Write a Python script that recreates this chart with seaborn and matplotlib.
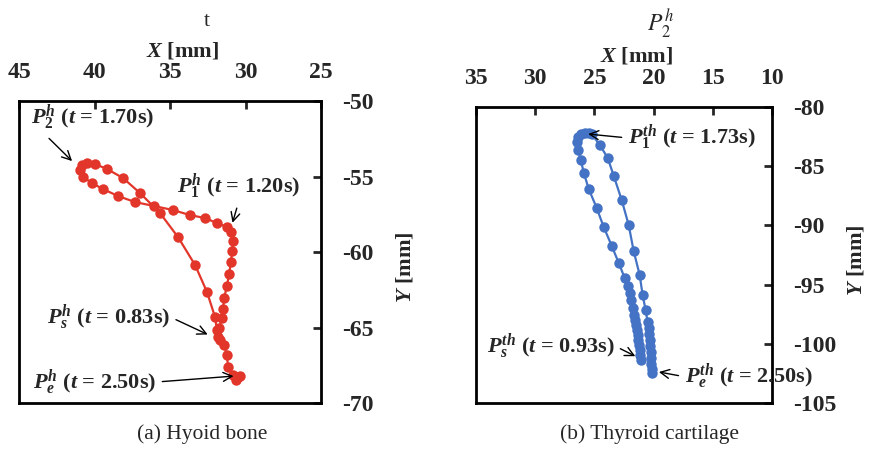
import numpy as np
import pandas as pd
import matplotlib
matplotlib.use("Agg")
import matplotlib.pyplot as plt
import seaborn as sns

# ==========================
# Data (mm)
# ==========================
# (a) hyoid bone trajectory, t = 0.83s -> 2.50s
hyoid_x = [31.82, 31.75, 31.56, 31.49, 31.42, 31.23, 31.09, 30.96, 30.89, 30.83,
           30.96, 31.23, 31.89, 32.68, 33.68, 34.80, 36.06, 37.32, 38.44, 39.44,
           40.17, 40.76, 40.96, 40.83, 40.50, 39.97, 39.17, 38.11, 36.99, 35.66,
           34.47, 33.34, 32.55, 32.02, 31.89, 31.69, 31.42, 31.23, 31.16, 30.83,
           30.50, 30.36, 30.63]
hyoid_y = [-65.63, -65.03, -64.37, -63.77, -63.05, -62.25, -61.46, -60.66, -59.93, -59.27,
           -58.68, -58.34, -58.08, -57.75, -57.55, -57.22, -56.95, -56.69, -56.29, -55.83,
           -55.43, -55.03, -54.57, -54.24, -54.11, -54.17, -54.50, -55.10, -56.09, -57.42,
           -59.01, -60.86, -62.65, -64.30, -65.17, -65.83, -66.16, -66.82, -67.62, -68.15,
           -68.28, -68.21, -68.48]

# (b) thyroid cartilage trajectory, t = 0.93s -> 2.50s
thyroid_x = [21.10, 21.18, 21.18, 21.27, 21.35, 21.35, 21.44, 21.52, 21.60, 21.69,
             21.77, 21.94, 22.03, 22.19, 22.45, 22.95, 23.54, 24.22, 24.81, 25.48,
             25.90, 26.15, 26.41, 26.49, 26.41, 26.15, 25.82, 25.48,
             25.23, 24.55, 23.88, 23.37, 22.70, 22.11, 21.69, 21.18, 20.93, 20.68,
             20.51, 20.42, 20.42, 20.34, 20.34, 20.26, 20.26, 20.26, 20.17, 20.17]
thyroid_y = [-101.35, -100.93, -100.51, -100.08, -99.66, -99.24, -98.82, -98.40, -97.98, -97.55,
             -96.96, -96.29, -95.70, -95.11, -94.43, -93.17, -91.73, -90.13, -88.53, -86.93,
             -85.57, -84.47, -83.63, -82.95, -82.53, -82.28, -82.19, -82.19,
             -82.28, -83.21, -84.30, -85.82, -87.85, -89.96, -92.15, -94.18, -95.87, -97.13,
             -98.14, -98.65, -99.16, -99.66, -100.17, -100.68, -101.18, -101.69, -102.11, -102.45]

hyoid_xticks = [45, 40, 35, 30, 25]
hyoid_yticks = [-50, -55, -60, -65, -70]
thyroid_xticks = [35, 30, 25, 20, 15, 10]
thyroid_yticks = [-80, -85, -90, -95, -100, -105]

# annotation labels: (text, point xy, text xy, ha, relpos)
hyoid_notes = [
    (r"$P^h_2$ ($t$ = 1.70s)", (41.42, -54.04), (40.10, -51.13), "center", (0.1, 0.0)),
    (r"$P^h_1$ ($t$ = 1.20s)", (30.89, -58.15), (34.54, -55.70), "left", (0.5, 0.0)),
    (r"$P^h_s$ ($t$ = 0.83s)", (32.42, -65.50), (43.15, -64.30), "left", (1.0, 0.5)),
    (r"$P^h_e$ ($t$ = 2.50s)", (30.70, -68.21), (44.07, -68.61), "left", (1.0, 0.5)),
]
thyroid_notes = [
    (r"$P^{th}_1$ ($t$ = 1.73s)", (25.65, -82.28), (22.19, -82.62), "left", (0.0, 0.5)),
    (r"$P^{th}_s$ ($t$ = 0.93s)", (21.44, -101.10), (34.07, -100.17), "left", (1.0, 0.5)),
    (r"$P^{th}_e$ ($t$ = 2.50s)", (19.67, -102.36), (17.39, -102.78), "left", (0.0, 0.5)),
]

# ==========================
# Style
# ==========================
sns.set_theme(style="white")
plt.rcParams["font.family"] = ["Liberation Serif", "DejaVu Serif"]
plt.rcParams["axes.unicode_minus"] = False
plt.rcParams["mathtext.fontset"] = "custom"
plt.rcParams["mathtext.rm"] = "Liberation Serif:bold"
plt.rcParams["mathtext.it"] = "Liberation Serif:italic:bold"
plt.rcParams["mathtext.bf"] = "Liberation Serif:bold"

RED = "#E2362B"
BLUE = "#4472C4"

fig = plt.figure(figsize=(8.69, 4.5), dpi=100)
ax1 = fig.add_axes([0.0219, 0.1044, 0.3475, 0.671])
ax2 = fig.add_axes([0.5478, 0.1044, 0.3406, 0.658])


def style_axis(ax, xlim, ylim, xticks, yticks):
    ax.set_xlim(*xlim)
    ax.set_ylim(*ylim)
    ax.set_xticks(xticks)
    ax.set_yticks(yticks)
    ax.xaxis.tick_top()
    ax.yaxis.tick_right()
    ax.xaxis.set_label_position("top")
    ax.yaxis.set_label_position("right")
    ax.tick_params(axis="x", direction="in", length=6, width=2, pad=13,
                   labelsize=17, top=True, bottom=False)
    ax.tick_params(axis="y", direction="in", length=6, width=2, pad=15,
                   labelsize=17, right=True, left=False)
    for lab in ax.get_xticklabels() + ax.get_yticklabels():
        lab.set_fontweight("bold")
    for sp in ax.spines.values():
        sp.set_linewidth(2)
        sp.set_color("black")
    ax.grid(False)


def draw_notes(ax, notes):
    for text, xy, xytext, ha, rp in notes:
        ax.annotate(text, xy=xy, xytext=xytext, ha=ha, va="center",
                    fontsize=16, fontweight="bold", annotation_clip=False,
                    arrowprops=dict(arrowstyle="->", color="black", lw=1.0,
                                    relpos=rp, shrinkA=2, shrinkB=1))


# ==========================
# (a) Hyoid bone
# ==========================
df_h = pd.DataFrame({"X": hyoid_x, "Y": hyoid_y})
sns.lineplot(data=df_h, x="X", y="Y", sort=False, estimator=None, ax=ax1,
             color=RED, linewidth=1.6, marker="o", markersize=7.5,
             markeredgewidth=0, markerfacecolor=RED)
style_axis(ax1, (45, 25), (-70, -50), hyoid_xticks, hyoid_yticks)
ax1.set_xlabel(r"$X$ [mm]", fontsize=16, fontweight="bold")
ax1.set_ylabel(r"$Y$ [mm]", fontsize=16, fontweight="bold", rotation=90)
ax1.xaxis.set_label_coords(0.543, 1.146)
ax1.yaxis.set_label_coords(1.245, 0.45)
ax1.text(0.623, 1.265, "t", transform=ax1.transAxes, ha="center", va="center",
         fontsize=16)
draw_notes(ax1, hyoid_notes)
fig.text(202 / 869, 1 - 434 / 450, "(a) Hyoid bone", ha="center", va="center",
         fontsize=15.5)

# ==========================
# (b) Thyroid cartilage
# ==========================
df_t = pd.DataFrame({"X": thyroid_x, "Y": thyroid_y})
sns.lineplot(data=df_t, x="X", y="Y", sort=False, estimator=None, ax=ax2,
             color=BLUE, linewidth=1.6, marker="o", markersize=7.5,
             markeredgewidth=0, markerfacecolor=BLUE)
style_axis(ax2, (35, 10), (-105, -80), thyroid_xticks, thyroid_yticks)
ax2.set_xlabel(r"$X$ [mm]", fontsize=16, fontweight="bold")
ax2.set_ylabel(r"$Y$ [mm]", fontsize=16, fontweight="bold", rotation=90)
ax2.xaxis.set_label_coords(0.544, 1.152)
ax2.yaxis.set_label_coords(1.247, 0.483)
ax2.text(0.622, 1.28, r"$P^h_2$", transform=ax2.transAxes, ha="center",
         va="center", fontsize=17, math_fontfamily="stix")
draw_notes(ax2, thyroid_notes)
fig.text(650 / 869, 1 - 434 / 450, "(b) Thyroid cartilage", ha="center",
         va="center", fontsize=15.5)

fig.savefig("out.png", dpi=100)
plt.close(fig)
